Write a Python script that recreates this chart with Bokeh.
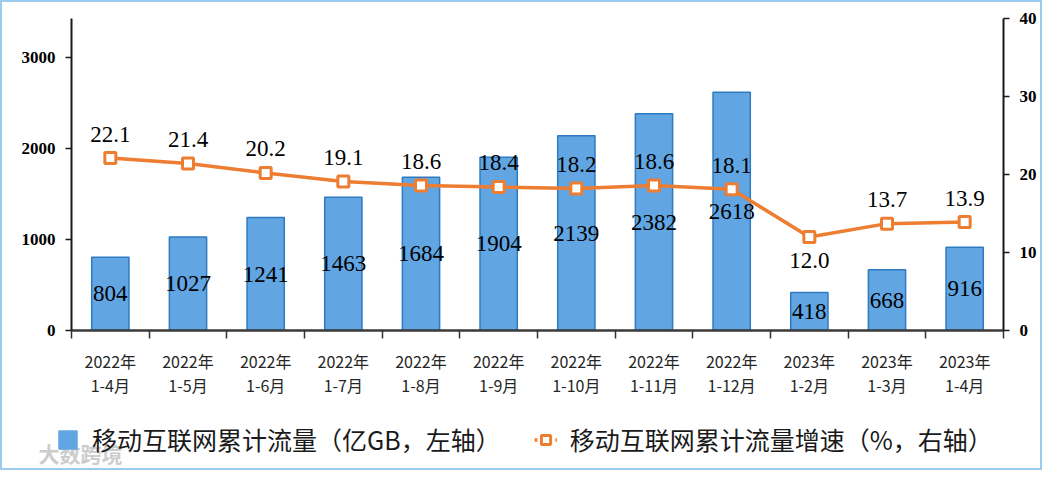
from bokeh.plotting import figure
from bokeh.layouts import column
from bokeh.models import (Range1d, LinearAxis, FixedTicker, Legend, LegendItem,
                          ColumnDataSource, Label)
from bokeh.core.properties import value
from bokeh.embed import file_html
from bokeh.resources import INLINE

periods = ["2022年\n1-4月", "2022年\n1-5月", "2022年\n1-6月", "2022年\n1-7月",
           "2022年\n1-8月", "2022年\n1-9月", "2022年\n1-10月", "2022年\n1-11月",
           "2022年\n1-12月", "2023年\n1-2月", "2023年\n1-3月", "2023年\n1-4月"]
traffic = [804, 1027, 1241, 1463, 1684, 1904, 2139, 2382, 2618, 418, 668, 916]
growth = [22.1, 21.4, 20.2, 19.1, 18.6, 18.4, 18.2, 18.6, 18.1, 12.0, 13.7, 13.9]
left_ticks = [0, 1000, 2000, 3000]
right_ticks = [0, 10, 20, 30, 40]
series_names = ["移动互联网累计流量（亿GB，左轴）", "移动互联网累计流量增速（%，右轴）"]

n = len(periods)
xs = [i + 0.5 for i in range(n)]
gmin = min(growth)
src = ColumnDataSource(dict(
    x=xs,
    traffic=traffic,
    mid=[t / 2 for t in traffic],
    tlabel=[str(t) for t in traffic],
    growth=growth,
    glabel=["%.1f" % g for g in growth],
    goff=[24 if g == gmin else -24 for g in growth],
))

SERIF = value("Liberation Serif")
CJK = "Noto Sans CJK SC"
BAR_FILL = "#62A5E3"
BAR_LINE = "#2F7BC2"
ORANGE = "#ED7D31"
W = 1038

p = figure(width=W, height=400, output_backend="svg", toolbar_location=None,
           x_range=Range1d(0, n), y_range=Range1d(0, 3428),
           min_border_left=69, min_border_right=37, min_border_top=16,
           min_border_bottom=72)
p.xgrid.visible = False
p.ygrid.visible = False
p.outline_line_color = None
p.background_fill_color = "white"
p.border_fill_color = "white"
p.extra_y_ranges = {"pct": Range1d(0, 40)}


def style_y(ax):
    ax.major_tick_out = 6
    ax.major_tick_in = 0
    ax.minor_tick_out = 0
    ax.minor_tick_in = 0
    ax.axis_line_width = 2
    ax.axis_line_color = "#1a1a1a"
    ax.major_tick_line_color = "#1a1a1a"
    ax.major_tick_line_width = 1.5
    ax.major_label_text_font = "Liberation Serif"
    ax.major_label_text_font_style = "bold"
    ax.major_label_text_font_size = "17px"
    ax.major_label_text_color = "black"
    ax.major_label_standoff = 10


ya = p.yaxis[0]
ya.ticker = FixedTicker(ticks=left_ticks)
style_y(ya)

ra = LinearAxis(y_range_name="pct", ticker=FixedTicker(ticks=right_ticks))
style_y(ra)
p.add_layout(ra, "right")

xa = p.xaxis[0]
xa.ticker = FixedTicker(ticks=xs, minor_ticks=list(range(n + 1)))
xa.major_label_overrides = {x: lab for x, lab in zip(xs, periods)}
xa.major_tick_out = 0
xa.major_tick_in = 0
xa.minor_tick_out = 8
xa.minor_tick_in = 0
xa.minor_tick_line_color = "#333333"
xa.minor_tick_line_width = 1.5
xa.axis_line_width = 2.5
xa.axis_line_color = "#3a3a3a"
xa.major_label_text_font = CJK
xa.major_label_text_font_size = "16px"
xa.major_label_text_color = "#262626"
xa.major_label_standoff = 10
xa.major_label_text_line_height = 1.0

p.vbar(x="x", top="traffic", width=0.48, source=src,
       fill_color=BAR_FILL, line_color=BAR_LINE, line_width=1.5)
p.text(x="x", y="mid", text="tlabel", source=src, text_font=SERIF,
       text_font_size="23px", text_color="black", text_align="center",
       text_baseline="middle")

p.line(x="x", y="growth", source=src, y_range_name="pct",
       line_color=ORANGE, line_width=3.5)
p.scatter(x="x", y="growth", source=src, y_range_name="pct", marker="square",
          size=11, fill_color="white", line_color=ORANGE, line_width=3)
p.text(x="x", y="growth", text="glabel", source=src, y_range_name="pct",
       y_offset="goff", text_font=SERIF, text_font_size="23px", text_color="black",
       text_align="center", text_baseline="middle")

# legend strip below the chart
LH = 66
q = figure(width=W, height=LH, output_backend="svg", toolbar_location=None,
           x_range=Range1d(0, W), y_range=Range1d(0, LH),
           x_axis_location=None, y_axis_location=None,
           min_border=0, min_border_left=0, min_border_right=0,
           min_border_top=0, min_border_bottom=0)
q.xgrid.visible = False
q.ygrid.visible = False
q.outline_line_color = None
q.border_fill_color = "white"
q.background_fill_color = "white"
for fig in (p, q):
    if "frame_align" in fig.properties():
        fig.frame_align = False

# off-canvas proxies, only used to draw the legend swatches
proxy = ColumnDataSource(dict(x=[-1000], y=[-1000]))
lb = q.vbar(x="x", top="y", width=1, source=proxy,
            fill_color=BAR_FILL, line_color=BAR_FILL)
ll = q.line(x="x", y="y", source=proxy, line_color=ORANGE, line_width=3.5,
            line_dash="3 4")
lm = q.scatter(x="x", y="y", source=proxy, marker="square", size=11,
               fill_color="white", line_color=ORANGE, line_width=3)

legend = Legend(items=[
    LegendItem(label=series_names[0], renderers=[lb]),
    LegendItem(label=series_names[1], renderers=[ll, lm]),
], orientation="horizontal", location=(54, 11))
legend.label_text_font = CJK
legend.label_text_font_size = "25px"
legend.label_text_color = "#1a1a1a"
legend.glyph_width = 23
legend.glyph_height = 23
legend.spacing = 33
legend.label_standoff = 13
legend.padding = 5
legend.margin = 0
legend.border_line_color = None
legend.background_fill_alpha = 0
q.add_layout(legend)

wm = Label(x=36, y=16, x_units="screen", y_units="screen", text="大数跨境",
           text_font=CJK, text_font_size="21px", text_font_style="bold",
           text_color="#cccccc", text_baseline="middle")
q.add_layout(wm)

layout = column(p, q, spacing=0, styles={"border": "2px solid #9ccbee"})

open("out.html", "w").write(file_html(layout, INLINE))
